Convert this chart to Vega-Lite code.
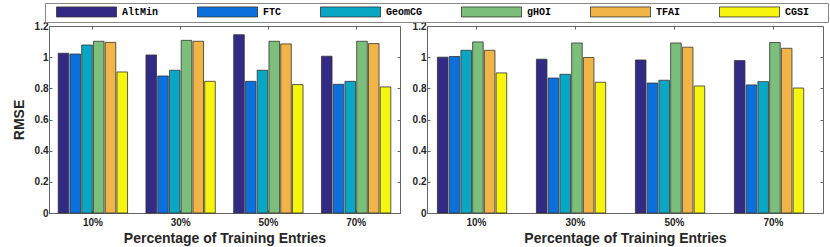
{
  "$schema": "https://vega.github.io/schema/vega-lite/v6.json",
  "background": "white",
  "padding": {"left": 11, "top": 2, "right": 7, "bottom": 0},
  "spacing": 27,
  "bounds": "flush",
  "data": {"values": [
    {"panel": "A", "pct": "10%", "method": "AltMin", "rmse": 1.025},
    {"panel": "A", "pct": "10%", "method": "FTC", "rmse": 1.02},
    {"panel": "A", "pct": "10%", "method": "GeomCG", "rmse": 1.078},
    {"panel": "A", "pct": "10%", "method": "gHOI", "rmse": 1.102},
    {"panel": "A", "pct": "10%", "method": "TFAI", "rmse": 1.095},
    {"panel": "A", "pct": "10%", "method": "CGSI", "rmse": 0.905},
    {"panel": "A", "pct": "30%", "method": "AltMin", "rmse": 1.014},
    {"panel": "A", "pct": "30%", "method": "FTC", "rmse": 0.879},
    {"panel": "A", "pct": "30%", "method": "GeomCG", "rmse": 0.916},
    {"panel": "A", "pct": "30%", "method": "gHOI", "rmse": 1.108},
    {"panel": "A", "pct": "30%", "method": "TFAI", "rmse": 1.102},
    {"panel": "A", "pct": "30%", "method": "CGSI", "rmse": 0.845},
    {"panel": "A", "pct": "50%", "method": "AltMin", "rmse": 1.144},
    {"panel": "A", "pct": "50%", "method": "FTC", "rmse": 0.845},
    {"panel": "A", "pct": "50%", "method": "GeomCG", "rmse": 0.916},
    {"panel": "A", "pct": "50%", "method": "gHOI", "rmse": 1.102},
    {"panel": "A", "pct": "50%", "method": "TFAI", "rmse": 1.085},
    {"panel": "A", "pct": "50%", "method": "CGSI", "rmse": 0.824},
    {"panel": "A", "pct": "70%", "method": "AltMin", "rmse": 1.006},
    {"panel": "A", "pct": "70%", "method": "FTC", "rmse": 0.826},
    {"panel": "A", "pct": "70%", "method": "GeomCG", "rmse": 0.845},
    {"panel": "A", "pct": "70%", "method": "gHOI", "rmse": 1.102},
    {"panel": "A", "pct": "70%", "method": "TFAI", "rmse": 1.087},
    {"panel": "A", "pct": "70%", "method": "CGSI", "rmse": 0.809},
    {"panel": "B", "pct": "10%", "method": "AltMin", "rmse": 1.0},
    {"panel": "B", "pct": "10%", "method": "FTC", "rmse": 1.004},
    {"panel": "B", "pct": "10%", "method": "GeomCG", "rmse": 1.044},
    {"panel": "B", "pct": "10%", "method": "gHOI", "rmse": 1.098},
    {"panel": "B", "pct": "10%", "method": "TFAI", "rmse": 1.044},
    {"panel": "B", "pct": "10%", "method": "CGSI", "rmse": 0.899},
    {"panel": "B", "pct": "30%", "method": "AltMin", "rmse": 0.987},
    {"panel": "B", "pct": "30%", "method": "FTC", "rmse": 0.866},
    {"panel": "B", "pct": "30%", "method": "GeomCG", "rmse": 0.89},
    {"panel": "B", "pct": "30%", "method": "gHOI", "rmse": 1.091},
    {"panel": "B", "pct": "30%", "method": "TFAI", "rmse": 0.998},
    {"panel": "B", "pct": "30%", "method": "CGSI", "rmse": 0.839},
    {"panel": "B", "pct": "50%", "method": "AltMin", "rmse": 0.982},
    {"panel": "B", "pct": "50%", "method": "FTC", "rmse": 0.834},
    {"panel": "B", "pct": "50%", "method": "GeomCG", "rmse": 0.852},
    {"panel": "B", "pct": "50%", "method": "gHOI", "rmse": 1.091},
    {"panel": "B", "pct": "50%", "method": "TFAI", "rmse": 1.064},
    {"panel": "B", "pct": "50%", "method": "CGSI", "rmse": 0.815},
    {"panel": "B", "pct": "70%", "method": "AltMin", "rmse": 0.978},
    {"panel": "B", "pct": "70%", "method": "FTC", "rmse": 0.822},
    {"panel": "B", "pct": "70%", "method": "GeomCG", "rmse": 0.843},
    {"panel": "B", "pct": "70%", "method": "gHOI", "rmse": 1.094},
    {"panel": "B", "pct": "70%", "method": "TFAI", "rmse": 1.057},
    {"panel": "B", "pct": "70%", "method": "CGSI", "rmse": 0.802}
  ]},
  "hconcat": [
    {
      "width": 351,
      "height": 187,
      "transform": [{"filter": "datum.panel == 'A'"}],
      "layer": [
        {
          "mark": {"type": "bar", "stroke": "#333333", "strokeWidth": 0.8},
          "encoding": {
            "x": {"field": "pct", "type": "nominal", "sort": ["10%", "30%", "50%", "70%"],
                  "scale": {"paddingInner": 0.21, "paddingOuter": 0.105},
                  "axis": {"orient": "bottom", "title": "Percentage of Training Entries", "labelAngle": 0, "tickSize": -3, "labelPadding": 7, "titlePadding": 4}},
            "xOffset": {"field": "method", "type": "nominal", "sort": ["AltMin", "FTC", "GeomCG", "gHOI", "TFAI", "CGSI"], "scale": {"paddingInner": 0.1}},
            "y": {"field": "rmse", "type": "quantitative", "scale": {"domain": [0, 1.2], "nice": false},
                  "axis": {"orient": "left", "title": "RMSE", "values": [0, 0.2, 0.4, 0.6, 0.8, 1, 1.2], "format": ".1~f", "tickSize": -3, "labelPadding": 4, "titlePadding": 8}},
            "color": {"field": "method", "type": "nominal", "sort": ["AltMin", "FTC", "GeomCG", "gHOI", "TFAI", "CGSI"],
                      "scale": {"domain": ["AltMin", "FTC", "GeomCG", "gHOI", "TFAI", "CGSI"], "range": ["#332a85", "#0c70dc", "#09a7c4", "#7cbf7a", "#f0b447", "#f7f50d"]},
                      "legend": {"orient": "none", "legendX": -4, "legendY": -23, "direction": "horizontal", "columns": 6, "title": " ", "titleOrient": "right", "titlePadding": 16}}
          }
        },
        {
          "mark": {"type": "point", "opacity": 0, "size": 1},
          "encoding": {
            "x": {"field": "pct", "type": "nominal", "sort": ["10%", "30%", "50%", "70%"],
                  "axis": {"orient": "top", "title": null, "labels": false, "domain": false, "tickSize": -3}},
            "y": {"field": "rmse", "type": "quantitative",
                  "axis": {"orient": "right", "title": null, "labels": false, "domain": false, "values": [0, 0.2, 0.4, 0.6, 0.8, 1, 1.2], "tickSize": -3}}
          }
        }
      ],
      "resolve": {"axis": {"x": "independent", "y": "independent"}}
    },
    {
      "width": 396,
      "height": 187,
      "transform": [{"filter": "datum.panel == 'B'"}],
      "layer": [
        {
          "mark": {"type": "bar", "stroke": "#333333", "strokeWidth": 0.8},
          "encoding": {
            "x": {"field": "pct", "type": "nominal", "sort": ["10%", "30%", "50%", "70%"],
                  "scale": {"paddingInner": 0.21, "paddingOuter": 0.105},
                  "axis": {"orient": "bottom", "title": "Percentage of Training Entries", "labelAngle": 0, "tickSize": -3, "labelPadding": 7, "titlePadding": 4}},
            "xOffset": {"field": "method", "type": "nominal", "sort": ["AltMin", "FTC", "GeomCG", "gHOI", "TFAI", "CGSI"], "scale": {"paddingInner": 0.1}},
            "y": {"field": "rmse", "type": "quantitative", "scale": {"domain": [0, 1.2], "nice": false},
                  "axis": {"orient": "left", "title": null, "values": [0, 0.2, 0.4, 0.6, 0.8, 1, 1.2], "format": ".1~f", "tickSize": -3, "labelPadding": 4}},
            "color": {"field": "method", "type": "nominal", "sort": ["AltMin", "FTC", "GeomCG", "gHOI", "TFAI", "CGSI"],
                      "scale": {"domain": ["AltMin", "FTC", "GeomCG", "gHOI", "TFAI", "CGSI"], "range": ["#332a85", "#0c70dc", "#09a7c4", "#7cbf7a", "#f0b447", "#f7f50d"]}}
          }
        },
        {
          "mark": {"type": "point", "opacity": 0, "size": 1},
          "encoding": {
            "x": {"field": "pct", "type": "nominal", "sort": ["10%", "30%", "50%", "70%"],
                  "axis": {"orient": "top", "title": null, "labels": false, "domain": false, "tickSize": -3}},
            "y": {"field": "rmse", "type": "quantitative",
                  "axis": {"orient": "right", "title": null, "labels": false, "domain": false, "values": [0, 0.2, 0.4, 0.6, 0.8, 1, 1.2], "tickSize": -3}}
          }
        }
      ],
      "resolve": {"axis": {"x": "independent", "y": "independent"}}
    }
  ],
  "resolve": {"scale": {"color": "shared"}, "legend": {"color": "shared"}},
  "config": {
    "view": {"stroke": "#666666", "strokeWidth": 1},
    "axis": {
      "grid": false,
      "labelFont": "Liberation Sans", "labelFontWeight": "bold", "labelFontSize": 10, "labelColor": "#262626",
      "titleFont": "Liberation Sans", "titleFontWeight": "bold", "titleFontSize": 14, "titleColor": "#262626",
      "domainColor": "#666666", "tickColor": "#666666"
    },
    "legend": {
      "symbolType": "M0.6,-1H12.6V1H0.6Z",
      "symbolSize": 100,
      "symbolStrokeColor": "#333333",
      "symbolStrokeWidth": 0.8,
      "symbolOpacity": 1,
      "labelOffset": 63,
      "labelFont": "Liberation Mono", "labelFontWeight": "bold", "labelFontSize": 10, "labelColor": "#000000",
      "titleFontSize": 10,
      "columnPadding": 30,
      "padding": 3,
      "strokeColor": "#888888",
      "fillColor": "white"
    }
  }
}
